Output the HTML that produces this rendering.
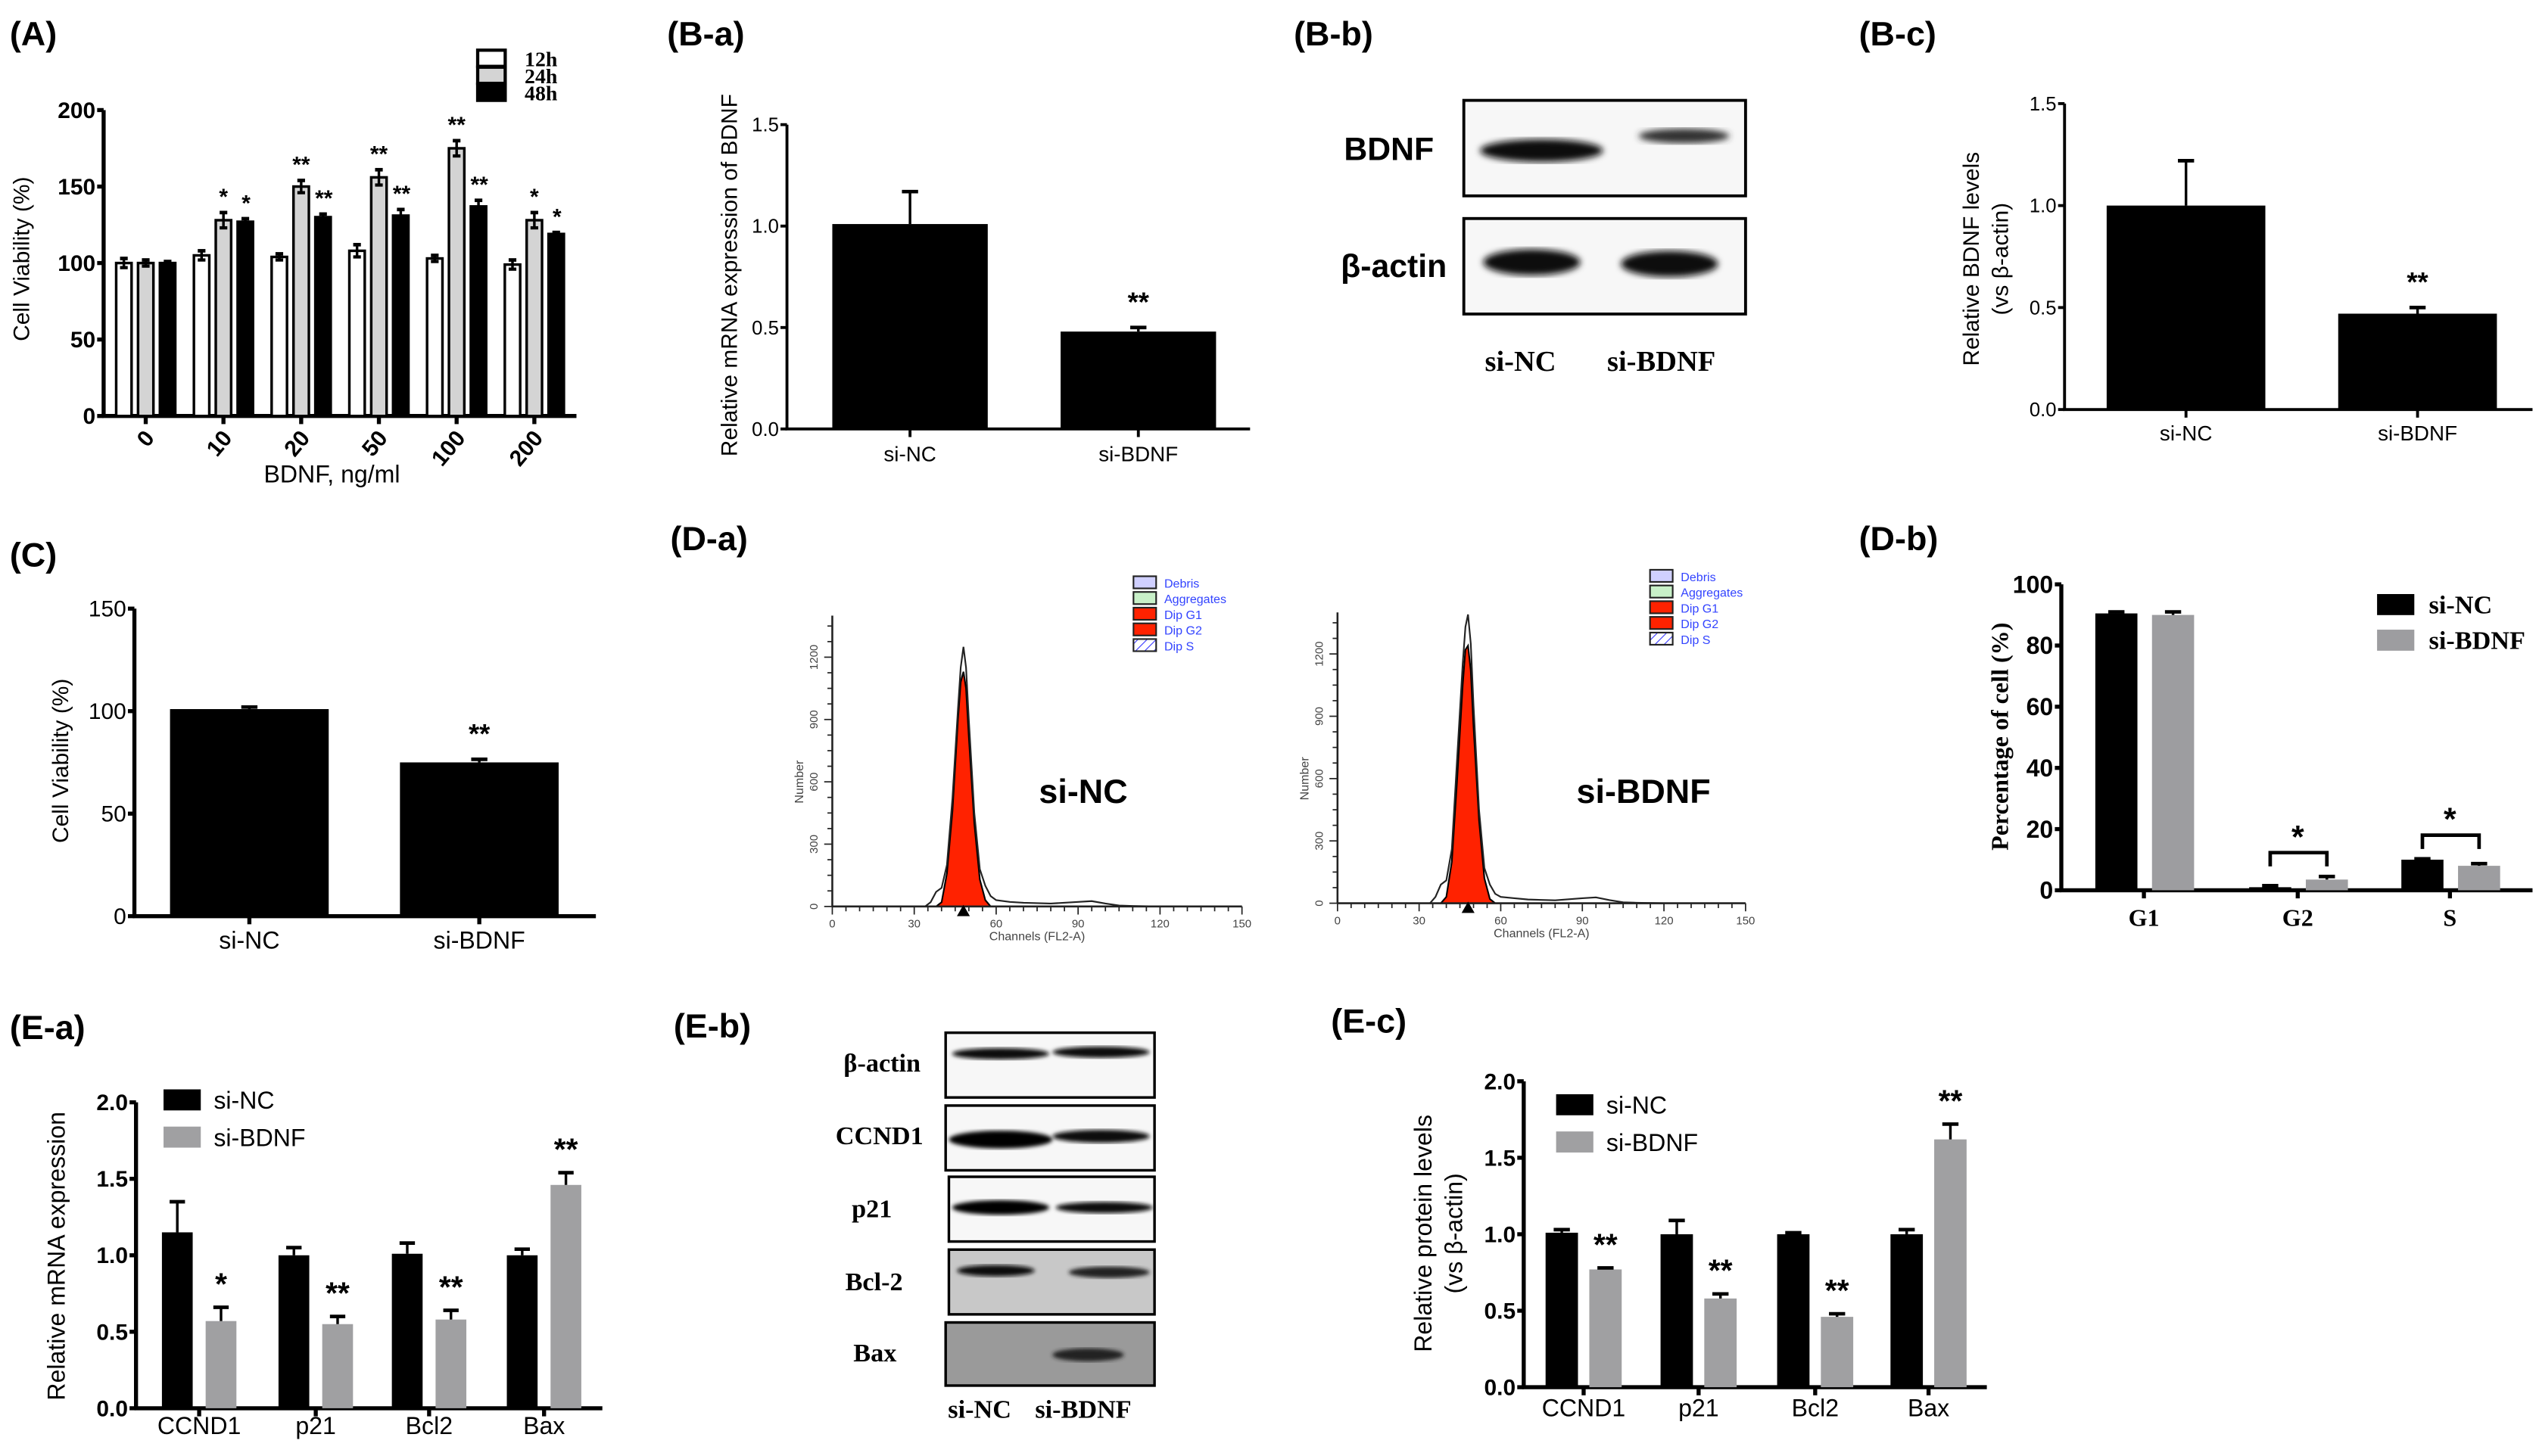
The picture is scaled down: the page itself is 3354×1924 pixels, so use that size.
<!DOCTYPE html>
<html><head><meta charset="utf-8"><style>
html,body{margin:0;padding:0;background:#fff;}
svg{display:block;}
text{font-family:"Liberation Sans",Arial,sans-serif;}
.serif, .serif text{font-family:"Liberation Serif","Times New Roman",serif;}
</style></head><body>
<svg id="fig" xmlns="http://www.w3.org/2000/svg" width="3354" height="1924" viewBox="0 0 1568 899.5" preserveAspectRatio="none">
<rect width="1568" height="900" fill="#fff"/>
<defs>
<pattern id="hatch" width="4" height="4" patternUnits="userSpaceOnUse" patternTransform="rotate(45)"><line x1="0" y1="0" x2="0" y2="4" stroke="#33f" stroke-width="1"/></pattern>
<filter id="blur1"><feGaussianBlur stdDeviation="2"/></filter>
<filter id="blur2"><feGaussianBlur stdDeviation="1.2"/></filter>
</defs>
<g font-weight="bold" font-size="21">
<text x="6" y="28">(A)</text>
<text x="412" y="28">(B-a)</text>
<text x="799" y="28">(B-b)</text>
<text x="1148" y="28">(B-c)</text>
<text x="6" y="350">(C)</text>
<text x="414" y="340">(D-a)</text>
<text x="1148" y="340">(D-b)</text>
<text x="6" y="642">(E-a)</text>
<text x="416" y="641">(E-b)</text>
<text x="822" y="638">(E-c)</text>
</g>

<g>
<rect x="904" y="62" width="174" height="59" fill="#f7f7f7" stroke="#000" stroke-width="1.8"/>
<ellipse cx="952" cy="93" rx="38" ry="7" fill="#111" filter="url(#blur1)"/>
<ellipse cx="1040" cy="84" rx="28" ry="4.5" fill="#333" filter="url(#blur1)"/>
<rect x="904" y="135" width="174" height="59" fill="#f7f7f7" stroke="#000" stroke-width="1.8"/>
<ellipse cx="946" cy="162" rx="30" ry="8" fill="#111" filter="url(#blur1)"/>
<ellipse cx="1031" cy="163" rx="30" ry="8" fill="#111" filter="url(#blur1)"/>
<text x="830" y="99" font-size="20" font-weight="bold">BDNF</text>
<text x="828" y="171" font-size="20" font-weight="bold">β-actin</text>
<text class="serif" x="939" y="229" font-size="18" font-weight="bold" text-anchor="middle">si-NC</text>
<text class="serif" x="1026" y="229" font-size="18" font-weight="bold" text-anchor="middle">si-BDNF</text>
</g>

<g id="eb">
<rect x="584" y="638" width="129" height="40" fill="#f7f7f7" stroke="#000" stroke-width="1.6"/>
<ellipse cx="618" cy="651" rx="30" ry="3.5" fill="#111" filter="url(#blur2)"/><ellipse cx="680" cy="650" rx="30" ry="3.5" fill="#111" filter="url(#blur2)"/>
<rect x="584" y="683" width="129" height="40" fill="#f7f7f7" stroke="#000" stroke-width="1.6"/>
<ellipse cx="618" cy="704" rx="32" ry="5.5" fill="#000" filter="url(#blur2)"/><ellipse cx="680" cy="702" rx="30" ry="4" fill="#111" filter="url(#blur2)"/>
<rect x="586" y="727" width="127" height="40" fill="#f7f7f7" stroke="#000" stroke-width="1.6"/>
<ellipse cx="618" cy="746" rx="30" ry="4.5" fill="#000" filter="url(#blur2)"/><ellipse cx="682" cy="746" rx="30" ry="3.5" fill="#111" filter="url(#blur2)"/>
<rect x="586" y="772" width="127" height="40" fill="#c8c8c8" stroke="#000" stroke-width="1.6"/>
<ellipse cx="615" cy="785" rx="24" ry="3.5" fill="#111" filter="url(#blur2)"/><ellipse cx="685" cy="786" rx="25" ry="3.5" fill="#222" filter="url(#blur2)"/>
<rect x="584" y="817" width="129" height="39" fill="#9a9a9a" stroke="#000" stroke-width="1.6"/>
<ellipse cx="672" cy="837" rx="22" ry="4" fill="#222" filter="url(#blur2)"/>
<g class="serif" font-size="16" font-weight="bold">
<text x="521" y="662">β-actin</text><text x="516" y="707">CCND1</text><text x="526" y="752">p21</text><text x="522" y="797">Bcl-2</text><text x="527" y="841">Bax</text>
<text x="605" y="876" text-anchor="middle">si-NC</text><text x="669" y="876" text-anchor="middle">si-BDNF</text>
</g>
</g>
<g id="charts"></g>
</svg>
<script>
const aCats = ["0","10","20","50","100","200"];
const a12 = [100,105,104,108,103,99];
const a12e = [3,3,2,4,2,3];
const a24 = [100,128,150,156,175,128];
const a24e = [2,5,4,5,5,5];
const a48 = [100,127,130,131,137,119];
const a48e = [1,2,2,4,4,1];
const a24s = ["","*","**","**","**","*"];
const a48s = ["","*","**","**","**","*"];
const aTicks = [0,50,100,150,200];
const baCats = ["si-NC","si-BDNF"];
const baVals = [1.01,0.48];
const baErr = [0.16,0.02];
const baStars = ["","**"];
const bTicks = ["0.0","0.5","1.0","1.5"];
const bcVals = [1.0,0.47];
const bcErr = [0.22,0.03];
const bcStars = ["","**"];
const cCats = ["si-NC","si-BDNF"];
const cVals = [101,75];
const cErr = [1,1.5];
const cStars = ["","**"];
const cTicks = [0,50,100,150];
const dbCats = ["G1","G2","S"];
const dbNC = [90.5,1,10];
const dbNCe = [0.5,0.5,0.3];
const dbSI = [90,3.5,8];
const dbSIe = [1,1,0.7];
const dbBracket = [null,12.3,18];
const dbTicks = [0,20,40,60,80,100];
const eCats = ["CCND1","p21","Bcl2","Bax"];
const eaNC = [1.15,1.0,1.01,1.0];
const eaNCe = [0.2,0.05,0.07,0.04];
const eaSI = [0.57,0.55,0.58,1.46];
const eaSIe = [0.09,0.05,0.06,0.08];
const eaStars = ["*","**","**","**"];
const eTicks = ["0.0","0.5","1.0","1.5","2.0"];
const ecNC = [1.01,1.0,1.0,1.0];
const ecNCe = [0.02,0.09,0.01,0.03];
const ecSI = [0.77,0.58,0.46,1.62];
const ecSIe = [0.01,0.03,0.02,0.1];
const ecStars = ["**","**","**","**"];
const flowCh = [34,36,38,40,42,44,46,47,48,49,50,52,54,56,58,60,65,70,80,90,95,100,105,110,120];
const flowNC = [0,20,70,90,200,520,950,1150,1250,1150,900,450,180,100,50,30,22,18,14,22,26,14,5,2,0];
const flowNCg1 = [0,0,0,20,160,460,900,1080,1130,1050,820,400,130,30,0,0,0,0,0,0,0,0,0,0,0];
const flowSI = [0,30,90,110,260,700,1150,1330,1390,1250,950,450,170,90,45,30,24,18,14,24,28,15,5,2,0];
const flowSIg1 = [0,0,0,30,200,600,1050,1220,1240,1120,850,400,120,20,0,0,0,0,0,0,0,0,0,0,0];
const flowXTicks = [0,30,60,90,120,150];
const flowYTicks = [0,300,600,900,1200];
const flowLegend = ["Debris","Aggregates","Dip G1","Dip G2","Dip S"];
const flowLegendFill = ["#d0d0ff","#c8f0c8","#ff2200","#ff2200","url(#hatch)"];

const NS="http://www.w3.org/2000/svg";
const root=document.getElementById('charts');
function el(tag,attrs,parent,txt){const e=document.createElementNS(NS,tag);for(const k in attrs)e.setAttribute(k,attrs[k]);if(txt!==undefined)e.textContent=txt;(parent||root).appendChild(e);return e;}
function grp(name){const g=el('g',{});return g;}

function yAxis(g,x,y0,yTop,max,ticks,fs,bold,lw){
  const ys=v=>y0-(v/max)*(y0-yTop);
  const ax=el('line',{x1:x,y1:y0,x2:x,y2:yTop,stroke:'#000','stroke-width':lw||2.2},g);
  
  
  ticks.forEach(t=>{const v=parseFloat(t);const y=ys(v);
    el('line',{x1:x-4,y1:y,x2:x,y2:y,stroke:'#000','stroke-width':lw||2},g);
    const tl=el('text',{x:x-5,y:y+fs*0.35,'font-size':fs,'text-anchor':'end','font-weight':bold?'bold':'normal'},g,String(t));
    
    
  });
  return ys;
}
function xAxis(g,x1,x2,y0,centers,lw){
  const ax=el('line',{x1:x1-1,y1:y0,x2:x2,y2:y0,stroke:'#000','stroke-width':lw||2.2},g);
  
  
  centers.forEach(c=>el('line',{x1:c,y1:y0,x2:c,y2:y0+5,stroke:'#000','stroke-width':lw||2},g));
}
function bar(g,cx,w,v,e,ys,y0,fill,stroke,name,errMode){
  const yt=ys(v);
  const r=el('rect',{x:cx-w/2,y:yt,width:w,height:y0-yt,fill:fill,stroke:stroke||'none','stroke-width':stroke?1.6:0},g);
  
  
  if(e){const ye=ys(v+e);const cw=Math.min(w*0.5,10);
    el('line',{x1:cx,y1:yt,x2:cx,y2:ye,stroke:'#000','stroke-width':1.6},g);
    el('line',{x1:cx-cw/2,y1:ye,x2:cx+cw/2,y2:ye,stroke:'#000','stroke-width':2.2},g);
    if(errMode==='both'){const yl=ys(v-e);el('line',{x1:cx,y1:yt,x2:cx,y2:yl,stroke:'#000','stroke-width':1.6},g);el('line',{x1:cx-cw/2,y1:yl,x2:cx+cw/2,y2:yl,stroke:'#000','stroke-width':2},g);}
  }
  return yt;
}
function star(g,x,y,s,fs){if(!s)return;const t=el('text',{x:x,y:y,'font-size':fs||16,'text-anchor':'middle','font-weight':'bold'},g,s);
  
  }
function ytitle(g,x,cy,txt,fs,cls,bold){const t=el('text',{x:0,y:0,'font-size':fs,'text-anchor':'middle',transform:`translate(${x},${cy}) rotate(-90)`,'font-weight':bold?'bold':'normal'},g,txt);
  if(cls)t.setAttribute('class',cls);
  
  }

(function(){const g=grp('chart-a');
 const x0=64,y0=257,yT=68;
 const ys=yAxis(g,x0,y0,yT,200,aTicks,14,true,2.5);
 const centers=aCats.map((c,i)=>90+i*48);
 xAxis(g,x0,356,y0,centers,2.5);
 aCats.forEach((c,i)=>{const cx=centers[i];
   bar(g,cx-13.5,9.5,a12[i],a12e[i],ys,y0,'#fff','#000','bar-12h','both');
   bar(g,cx,9.5,a24[i],a24e[i],ys,y0,'#d4d4d4','#000','bar-24h','both');
   bar(g,cx+13.5,9.5,a48[i],a48e[i],ys,y0,'#000','#000','bar-48h','both');
   star(g,cx,ys(a24[i]+a24e[i])-5,a24s[i],14);
   star(g,cx+14,ys(a48[i]+a48e[i])-5,a48s[i],14);
   const tl=el('text',{x:0,y:0,'font-size':14,'font-weight':'bold','text-anchor':'end',transform:`translate(${cx+6},${y0+14}) rotate(-50)`},g,c);
   
   
 });
 const xt=el('text',{x:205,y:298,'font-size':15,'text-anchor':'middle'},g,'BDNF, ng/ml');
 
 
 ytitle(g,18,160,'Cell Viability (%)',14);
 const lg=grp('legend-a');g.appendChild(lg);
 const lf=['#fff','#d4d4d4','#000'],ll=['12h','24h','48h'];
 ll.forEach((l,i)=>{el('rect',{x:295,y:31+i*10.5,width:17,height:10,fill:lf[i],stroke:'#000','stroke-width':2},lg);
   const t=el('text',{x:324,y:41+i*10.5,'font-size':13,'font-weight':'bold',class:'serif'},lg,l);
   
   });
})();

function twoBar(name,x0,y0,yT,max,ticks,xEnd,centers,widths,vals,errs,stars,cats,fs,labelY,title,titleX,titleCY,lw){
 const g=grp(name);
 const ys=yAxis(g,x0,y0,yT,max,ticks,fs,false,lw);
 xAxis(g,x0,xEnd,y0,centers,lw);
 vals.forEach((v,i)=>{bar(g,centers[i],widths[i],v,errs[i],ys,y0,'#000',null,'bar-'+cats[i]);
   star(g,centers[i],ys(v+errs[i])-10,stars[i],17);
   const t=el('text',{x:centers[i],y:labelY,'font-size':fs+1,'text-anchor':'middle'},g,cats[i]);
   
   });
 if(Array.isArray(title)){title.forEach((tt,k)=>ytitle(g,titleX[k],titleCY,tt,14));}else ytitle(g,titleX,titleCY,title,14);
 return g;}
twoBar('chart-b-a',486,265,77,1.5,bTicks,772,[562,703],[96,96],baVals,baErr,baStars,baCats,12,285,'Relative mRNA expression of BDNF',455,170,1.8);
twoBar('chart-b-c',1275,253,64,1.5,bTicks,1564,[1350,1493],[98,98],bcVals,bcErr,bcStars,baCats,12,272,['Relative BDNF levels','(vs β-actin)'],[1222,1240],160,1.8);
twoBar('chart-c',83,566,376,150,cTicks,368,[154,296],[98,98],cVals,cErr,cStars,cCats,14,586,'Cell Viability (%)',42,470,2.5);

(function(){const g=grp('chart-d-b');
 const x0=1273,y0=550,yT=361;
 const ys=yAxis(g,x0,y0,yT,100,dbTicks,15,true,2.5);
 const centers=[1324,1419,1513];
 xAxis(g,x0,1564,y0,centers,2.5);
 dbCats.forEach((c,i)=>{const cx=centers[i];
   bar(g,cx-17,26,dbNC[i],dbNCe[i],ys,y0,'#000',null,'bar-si-nc-'+c);
   bar(g,cx+18,26,dbSI[i],dbSIe[i],ys,y0,'#9d9da0',null,'bar-si-bdnf-'+c);
   if(dbBracket[i]!==null){const yb=ys(dbBracket[i]),yl=ys(dbBracket[i]-4.5);
     el('path',{d:`M${cx-17},${yl} V${yb} H${cx+18} V${yl}`,fill:'none',stroke:'#000','stroke-width':2.2},g);
     star(g,cx,yb-3,'*',20);}
   const t=el('text',{x:cx,y:572,'font-size':15,'font-weight':'bold','text-anchor':'middle',class:'serif'},g,c);
   
   });
 ytitle(g,1240,455,'Percentage of cell (%)',15,'serif',true);
 const lf=['#000','#9d9da0'],ll=['si-NC','si-BDNF'];
 ll.forEach((l,i)=>{el('rect',{x:1468,y:367+i*22,width:23,height:13,fill:lf[i]},g);
   const t=el('text',{x:1500,y:379+i*22,'font-size':16,'font-weight':'bold',class:'serif'},g,l);
   
   });
})();

function eChart(name,x0,y0,yT,xEnd,centers,off,w,nc,nce,si,sie,stars,title,titleX,titleCY,lgX,lgY,lblY){
 const g=grp(name);
 const ys=yAxis(g,x0,y0,yT,2,eTicks,14,true,2.5);
 xAxis(g,x0,xEnd,y0,centers,2.5);
 eCats.forEach((c,i)=>{const cx=centers[i];
   bar(g,cx-off,w,nc[i],nce[i],ys,y0,'#000',null,'bar-si-nc-'+c);
   bar(g,cx+off,w,si[i],sie[i],ys,y0,'#a0a0a2',null,'bar-si-bdnf-'+c);
   star(g,cx+off,ys(si[i]+sie[i])-8,stars[i],19);
   const t=el('text',{x:cx,y:lblY,'font-size':15,'text-anchor':'middle'},g,c);
   
   });
 if(Array.isArray(title)){title.forEach((tt,k)=>ytitle(g,titleX[k],titleCY,tt,15));}else ytitle(g,titleX,titleCY,title,15);
 const lf=['#000','#a0a0a2'],ll=['si-NC','si-BDNF'];
 ll.forEach((l,i)=>{el('rect',{x:lgX,y:lgY+i*23,width:23,height:13,fill:lf[i]},g);
   const t=el('text',{x:lgX+31,y:lgY+12+i*23,'font-size':15},g,l);
   
   });
}
eChart('chart-e-a',84,870,681,372,[123,195,265,336],13.5,19,eaNC,eaNCe,eaSI,eaSIe,eaStars,'Relative mRNA expression',40,776,101,673,886);
eChart('chart-e-c',941,857,668,1227,[978,1049,1121,1191],13.5,20,ecNC,ecNCe,ecSI,ecSIe,ecStars,['Relative protein levels','(vs β-actin)'],[884,903],762,961,676,875);

function flow(name,x0,x1,y0,y1200,hist,g1,label,lx,lgX,lgY){
 const g=grp(name);
 const xs=c=>x0+(c/150)*(x1-x0), ys=v=>y0-(v/1200)*(y0-y1200);
 let d='M'+xs(flowCh[0])+','+y0;flowCh.forEach((c,i)=>{d+=' L'+xs(c).toFixed(1)+','+ys(g1[i]).toFixed(1);});d+=' L'+xs(flowCh[flowCh.length-1])+','+y0+'Z';
 const r=el('path',{d:d,fill:'#ff2200',stroke:'#000','stroke-width':1},g);
 
 
 let d2='';flowCh.forEach((c,i)=>{d2+=(i?' L':'M')+xs(c).toFixed(1)+','+ys(hist[i]).toFixed(1);});
 const o=el('path',{d:d2,fill:'none',stroke:'#222','stroke-width':1},g);
 
 
 el('line',{x1:x0,y1:y0,x2:x1,y2:y0,stroke:'#222','stroke-width':1.2},g);
 el('line',{x1:x0,y1:y0,x2:x0,y2:ys(1400),stroke:'#222','stroke-width':1.2},g);
 for(let c=0;c<=150;c+=5){el('line',{x1:xs(c),y1:y0,x2:xs(c),y2:y0+(c%30?3:5),stroke:'#222','stroke-width':0.8},g);}
 for(let v=0;v<=1350;v+=75){el('line',{x1:x0-(v%300?3:5),y1:ys(v),x2:x0,y2:ys(v),stroke:'#222','stroke-width':0.8},g);}
 flowXTicks.forEach(t=>el('text',{x:xs(t),y:y0+13,'font-size':7,'text-anchor':'middle',fill:'#444'},g,t));
 flowYTicks.forEach(t=>el('text',{x:0,y:0,'font-size':7,'text-anchor':'middle',fill:'#444',transform:`translate(${x0-9},${ys(t)}) rotate(-90)`},g,t));
 el('text',{x:(x0+x1)/2,y:y0+21,'font-size':7.5,'text-anchor':'middle',fill:'#444'},g,'Channels (FL2-A)');
 el('text',{x:0,y:0,'font-size':7.5,'text-anchor':'middle',fill:'#444',transform:`translate(${x0-18},${ys(600)}) rotate(-90)`},g,'Number');
 el('path',{d:`M${xs(48)-4},${y0+6} L${xs(48)+4},${y0+6} L${xs(48)},${y0-1}Z`,fill:'#000'},g);
 const lt=el('text',{x:lx,y:496,'font-size':21,'font-weight':'bold','text-anchor':'middle'},g,label);
 
 
 flowLegend.forEach((l,i)=>{el('rect',{x:lgX,y:lgY+i*9.7,width:14,height:7.5,fill:flowLegendFill[i],stroke:'#222','stroke-width':1},g);
   const t=el('text',{x:lgX+19,y:lgY+7+i*9.7,'font-size':7.5,fill:'#3344ff'},g,l);
   
   });
}
flow('flow-si-nc',514,767,560,406,flowNC,flowNCg1,'si-NC',669,700,356);
flow('flow-si-bdnf',826,1078,558,404,flowSI,flowSIg1,'si-BDNF',1015,1019,352);
</script>
</body></html>
